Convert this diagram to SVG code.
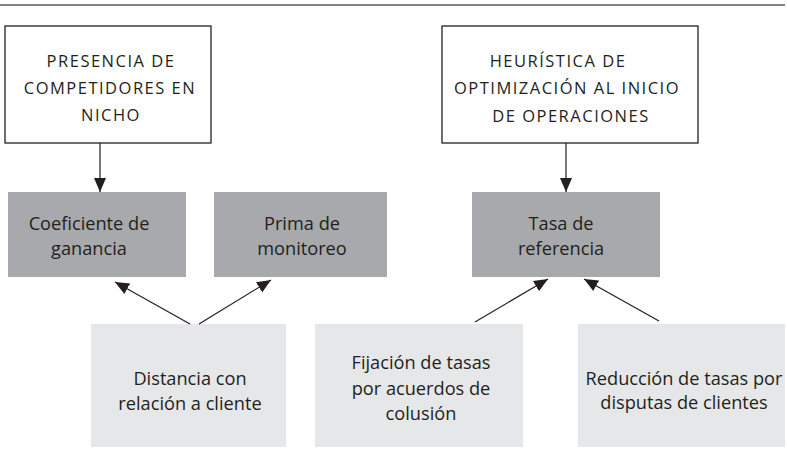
<svg xmlns="http://www.w3.org/2000/svg" width="787" height="467" viewBox="0 0 787 467">
<defs>
<style>
.frame{fill:#ffffff;stroke:#231f20;stroke-width:1.3}
.dark{fill:#a7a9ac}
.light{fill:#e6e7e8}
.cap{font-family:"Open Sans","Liberation Sans",sans-serif;font-size:16.5px;letter-spacing:1.5px;fill:#231f20;text-anchor:middle}
.body{font-family:"Open Sans","Liberation Sans",sans-serif;font-size:18.2px;fill:#231f20;text-anchor:middle}
.conn line{stroke:#231f20;stroke-width:1.2;fill:none}
</style>
<marker id="ah" markerUnits="userSpaceOnUse" markerWidth="14" markerHeight="14" viewBox="0 0 14 12" refX="14" refY="6" orient="auto">
<path d="M0,0 L14,6 L0,12 Z" fill="#231f20"/>
</marker>
</defs>
<line x1="0" y1="5" x2="785" y2="5" stroke="#58595b" stroke-width="1.3"/>
<g id="presencia">
<rect class="frame" x="5" y="26" width="206" height="117"/>
<text class="cap" x="111" y="67">PRESENCIA DE</text>
<text class="cap" x="110" y="94">COMPETIDORES EN</text>
<text class="cap" x="111" y="121">NICHO</text>
</g>
<g id="heuristica">
<rect class="frame" x="442" y="26" width="256" height="117"/>
<text class="cap" x="558" y="67">HEURÍSTICA DE</text>
<text class="cap" x="567" y="94">OPTIMIZACIÓN AL INICIO</text>
<text class="cap" x="571" y="122">DE OPERACIONES</text>
</g>
<g id="coeficiente">
<rect class="dark" x="8" y="192" width="178" height="85"/>
<text class="body" x="89" y="230">Coeficiente de</text>
<text class="body" x="89" y="255">ganancia</text>
</g>
<g id="prima">
<rect class="dark" x="214" y="192" width="173" height="85"/>
<text class="body" x="302" y="230">Prima de</text>
<text class="body" x="302" y="255">monitoreo</text>
</g>
<g id="tasa">
<rect class="dark" x="472" y="192" width="188" height="85"/>
<text class="body" x="561" y="230">Tasa de</text>
<text class="body" x="561" y="255">referencia</text>
</g>
<g id="distancia">
<rect class="light" x="91" y="324" width="195" height="123"/>
<text class="body" x="190" y="385">Distancia con</text>
<text class="body" x="190" y="410">relación a cliente</text>
</g>
<g id="fijacion">
<rect class="light" x="315" y="324" width="208" height="123"/>
<text class="body" x="421" y="369">Fijación de tasas</text>
<text class="body" x="421" y="395">por acuerdos de</text>
<text class="body" x="421" y="420">colusión</text>
</g>
<g id="reduccion">
<rect class="light" x="578" y="324" width="207" height="123"/>
<text class="body" x="684" y="385">Reducción de tasas por</text>
<text class="body" x="684" y="409">disputas de clientes</text>
</g>
<g id="connectors" class="conn">
<line x1="100" y1="143" x2="100" y2="192" marker-end="url(#ah)"/>
<line x1="566" y1="143" x2="566" y2="192" marker-end="url(#ah)"/>
<line x1="190" y1="324" x2="115" y2="282" marker-end="url(#ah)"/>
<line x1="199" y1="324" x2="271" y2="280" marker-end="url(#ah)"/>
<line x1="475" y1="322" x2="548" y2="279" marker-end="url(#ah)"/>
<line x1="659" y1="321" x2="584" y2="279" marker-end="url(#ah)"/>
</g>
</svg>
